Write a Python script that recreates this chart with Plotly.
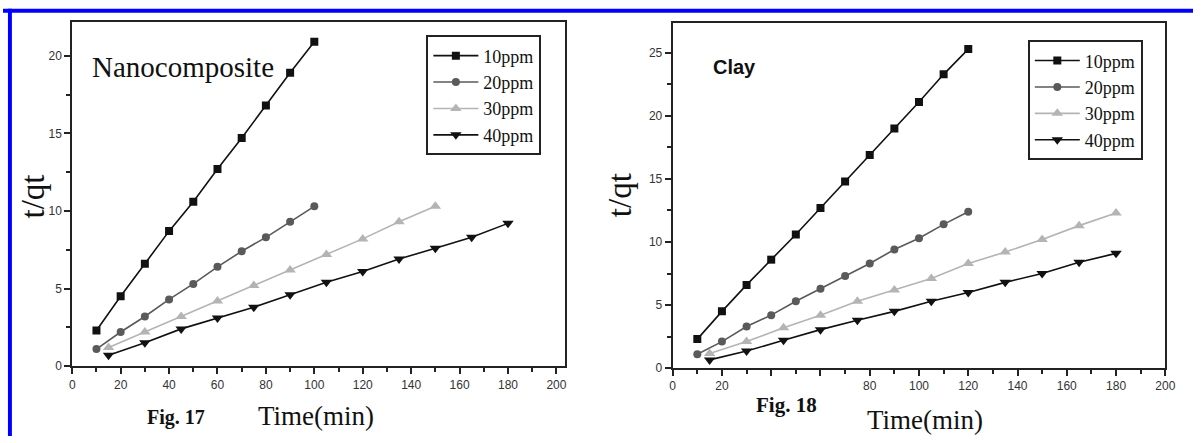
import plotly.graph_objects as go

W, H = 1203, 443

def px(x):
    return x / W

def py(y):
    return 1 - y / H

# ---------------- Data ----------------
series_names = ["10ppm", "20ppm", "30ppm", "40ppm"]

# Fig. 17 - Nanocomposite
nano_t_10 = [10, 20, 30, 40, 50, 60, 70, 80, 90, 100]
nano_y_10 = [2.3, 4.5, 6.6, 8.7, 10.6, 12.7, 14.7, 16.8, 18.9, 20.9]
nano_t_20 = [10, 20, 30, 40, 50, 60, 70, 80, 90, 100]
nano_y_20 = [1.1, 2.2, 3.2, 4.3, 5.3, 6.4, 7.4, 8.3, 9.3, 10.3]
nano_t_30 = [15, 30, 45, 60, 75, 90, 105, 120, 135, 150]
nano_y_30 = [1.2, 2.2, 3.2, 4.2, 5.2, 6.2, 7.2, 8.2, 9.3, 10.3]
nano_t_40 = [15, 30, 45, 60, 75, 90, 105, 120, 135, 150, 165, 180]
nano_y_40 = [0.7, 1.5, 2.4, 3.1, 3.8, 4.6, 5.4, 6.1, 6.9, 7.6, 8.3, 9.2]

# Fig. 18 - Clay
clay_t_10 = [10, 20, 30, 40, 50, 60, 70, 80, 90, 100, 110, 120]
clay_y_10 = [2.3, 4.5, 6.6, 8.6, 10.6, 12.7, 14.8, 16.9, 19.0, 21.1, 23.3, 25.3]
clay_t_20 = [10, 20, 30, 40, 50, 60, 70, 80, 90, 100, 110, 120]
clay_y_20 = [1.1, 2.1, 3.3, 4.2, 5.3, 6.3, 7.3, 8.3, 9.4, 10.3, 11.4, 12.4]
clay_t_30 = [15, 30, 45, 60, 75, 90, 105, 120, 135, 150, 165, 180]
clay_y_30 = [1.15, 2.1, 3.2, 4.2, 5.3, 6.2, 7.1, 8.3, 9.2, 10.2, 11.3, 12.3]
clay_t_40 = [15, 30, 45, 60, 75, 90, 105, 120, 135, 150, 165, 180]
clay_y_40 = [0.65, 1.35, 2.2, 3.05, 3.8, 4.5, 5.3, 6.0, 6.8, 7.5, 8.4, 9.1]

# ---------------- Styles ----------------
colors = ["#111111", "#5a5a5a", "#b4b4b4", "#111111"]
symbols = ["square", "circle", "triangle-up", "triangle-down"]
msizes = [8, 8, 10, 10]

fig = go.Figure()

nano = [(nano_t_10, nano_y_10), (nano_t_20, nano_y_20),
        (nano_t_30, nano_y_30), (nano_t_40, nano_y_40)]
clay = [(clay_t_10, clay_y_10), (clay_t_20, clay_y_20),
        (clay_t_30, clay_y_30), (clay_t_40, clay_y_40)]

for i, (t, y) in enumerate(nano):
    fig.add_trace(go.Scatter(
        x=t, y=y, mode="lines+markers", name=series_names[i],
        line=dict(color=colors[i], width=1.6),
        marker=dict(symbol=symbols[i], size=msizes[i], color=colors[i]),
        xaxis="x", yaxis="y", legend="legend"))

for i, (t, y) in enumerate(clay):
    fig.add_trace(go.Scatter(
        x=t, y=y, mode="lines+markers", name=series_names[i],
        line=dict(color=colors[i], width=1.6),
        marker=dict(symbol=symbols[i], size=msizes[i], color=colors[i]),
        xaxis="x2", yaxis="y2", legend="legend2"))

tickfont = dict(family="Liberation Sans, Arial, sans-serif", size=12, color="#333333")
minor_common = dict(ticks="outside", ticklen=4, tickwidth=1.5, tickcolor="#222222", showgrid=False)
axis_common = dict(
    showgrid=False, zeroline=False, showline=True, linecolor="#222222",
    linewidth=2, mirror=True, ticks="outside", ticklen=6, tickwidth=1.5,
    tickcolor="#222222", tickfont=tickfont,
)

L_x0, L_x1, L_y0, L_y1 = 70, 568, 22, 372
R_x0, R_x1, R_y0, R_y1 = 677, 1175, 23, 374

legend_font = dict(family="Liberation Serif, Times New Roman, serif", size=18, color="#111111")

fig.update_layout(
    width=W, height=H,
    margin=dict(l=0, r=0, t=0, b=0),
    paper_bgcolor="white", plot_bgcolor="white",
    showlegend=True,
    xaxis=dict(axis_common, domain=[px(L_x0), px(L_x1)], range=[0, 203.5],
               tick0=0, dtick=20, minor=dict(minor_common, dtick=10, tick0=0),
               anchor="y"),
    yaxis=dict(axis_common, domain=[py(L_y1), py(L_y0)], range=[0, 22.2],
               tick0=0, dtick=5, minor=dict(minor_common, dtick=2.5, tick0=0),
               anchor="x"),
    xaxis2=dict(axis_common, domain=[px(R_x0), px(R_x1)], range=[0, 200],
                tick0=0, dtick=20, minor=dict(minor_common, dtick=10, tick0=0),
                anchor="y2"),
    yaxis2=dict(axis_common, domain=[py(R_y1), py(R_y0)], range=[0, 27.4],
                tick0=0, dtick=5, minor=dict(minor_common, dtick=2.5, tick0=0),
                anchor="x2"),
    legend=dict(x=px(428), y=py(36), xanchor="left", yanchor="top",
                bordercolor="#222222", borderwidth=2, bgcolor="white",
                font=legend_font, itemwidth=45, tracegroupgap=0),
    legend2=dict(x=px(1036), y=py(41), xanchor="left", yanchor="top",
                 bordercolor="#222222", borderwidth=2, bgcolor="white",
                 font=legend_font, itemwidth=45, tracegroupgap=0),
)

serif = "Liberation Serif, Times New Roman, serif"
annotations = [
    dict(text="Nanocomposite", x=px(88), y=py(68), xanchor="left", yanchor="middle",
         font=dict(family=serif, size=29, color="#111111")),
    dict(text="<b>Clay</b>", x=px(716), y=py(68), xanchor="left", yanchor="middle",
         font=dict(family="Liberation Sans, Arial, sans-serif", size=20, color="#111111")),
    dict(text="t/qt", x=px(30), y=py(200), textangle=-90, xanchor="center", yanchor="middle",
         font=dict(family=serif, size=33, color="#111111")),
    dict(text="t/qt", x=px(624), y=py(198), textangle=-90, xanchor="center", yanchor="middle",
         font=dict(family=serif, size=33, color="#111111")),
    dict(text="Time(min)", x=px(316), y=py(423), xanchor="center", yanchor="middle",
         font=dict(family=serif, size=27, color="#111111")),
    dict(text="Time(min)", x=px(932), y=py(427), xanchor="center", yanchor="middle",
         font=dict(family=serif, size=27, color="#111111")),
    dict(text="<b>Fig. 17</b>", x=px(175), y=py(424), xanchor="center", yanchor="middle",
         font=dict(family=serif, size=20, color="#111111")),
    dict(text="<b>Fig. 18</b>", x=px(792), y=py(412), xanchor="center", yanchor="middle",
         font=dict(family=serif, size=21, color="#111111")),
]
for a in annotations:
    a.update(xref="paper", yref="paper", showarrow=False)
fig.update_layout(annotations=annotations)

shapes = [
    # blue frame: top and left edges
    dict(type="rect", xref="paper", yref="paper", x0=0, x1=1, y0=py(13), y1=py(9),
         fillcolor="#0000ff", line=dict(width=0), layer="above"),
    dict(type="rect", xref="paper", yref="paper", x0=px(5), x1=px(9), y0=0, y1=py(9),
         fillcolor="#0000ff", line=dict(width=0), layer="above"),
    # white patch hiding part of the right chart's tick labels (as in the original)
    dict(type="rect", xref="paper", yref="paper", x0=px(762), x1=px(845), y0=py(400), y1=py(387),
         fillcolor="white", line=dict(width=0), layer="above"),
]
fig.update_layout(shapes=shapes)

fig.write_html("out.html")
